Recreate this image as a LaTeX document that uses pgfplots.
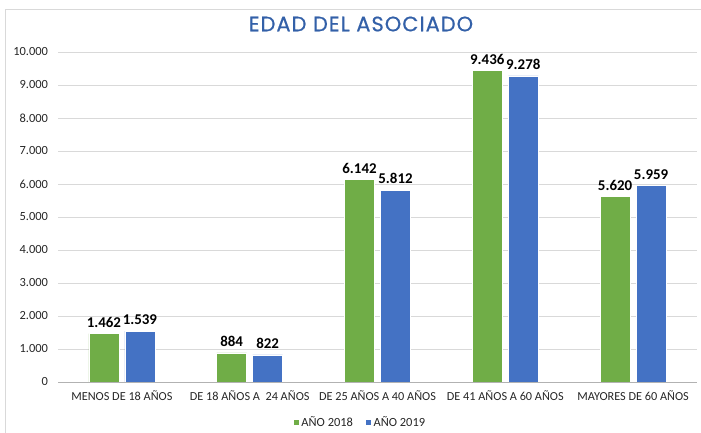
\documentclass[border=0pt]{standalone}
\usepackage{pgfplots}
\pgfplotsset{compat=1.18}
\usepackage{fontspec}
\setmainfont{Carlito}
\newfontfamily\titlefont{Poppins}[LetterSpace=5, FakeBold=0.6]
\definecolor{gA}{HTML}{70AD47}
\definecolor{bA}{HTML}{4472C4}
\definecolor{tC}{HTML}{3360A8}
\definecolor{gridC}{HTML}{D9D9D9}
\begin{document}
\begin{tikzpicture}[x=1bp,y=1bp]
\path[use as bounding box] (0,0) rectangle (701,433);
\draw[gridC, line width=1bp] (5,0) -- (5,423) -- (701,423);
\node[font=\titlefont\fontsize{21}{24}\selectfont, text=tC] at (361,409) {EDAD DEL ASOCIADO};
\begin{axis}[
  at={(58bp,51bp)}, anchor=south west,
  scale only axis, width=639bp, height=330bp,
  ybar=6bp, bar width=30bp,
  xmin=-0.5, xmax=4.5, ymin=0, ymax=10000,
  xtick=data,
  xticklabels={MENOS DE 18 AÑOS, DE 18 AÑOS A\ \ 24 AÑOS, DE 25 AÑOS A 40 AÑOS, DE 41 AÑOS A 60 AÑOS, MAYORES DE 60 AÑOS},
  ytick={0,1000,...,10000},
  /pgf/number format/1000 sep={.},
  /pgf/number format/assume math mode=true,
  scaled y ticks=false,
  yticklabel style={font=\fontsize{12.5}{14}\selectfont, text=black!85, xshift=-6.5bp},
  xticklabel style={font=\fontsize{12.3}{14}\selectfont, text=black!85, yshift=-5bp},
  major tick length=0pt,
  ymajorgrids, grid style={gridC, line width=0.8bp},
  axis line style={draw=none},
  nodes near coords,
  every node near coord/.append style={font=\bfseries\fontsize{15}{17}\selectfont, text=black, yshift=2.5bp},
  legend style={at={(302bp,-40bp)}, anchor=center, draw=none, legend columns=2, font=\fontsize{12.5}{14}\selectfont, text=black!85, /tikz/every even column/.append style={column sep=10bp}, /tikz/every odd column/.append style={column sep=0bp}},
  legend image code/.code={\fill[#1] (2bp,-3bp) rectangle (8bp,3bp);},
  clip=false,
]
\addplot[fill=gA, draw=white, line width=0.6bp] coordinates {(0,1462) (1,884) (2,6142) (3,9436) (4,5620)};
\addplot[fill=bA, draw=white, line width=0.6bp] coordinates {(0,1539) (1,822) (2,5812) (3,9278) (4,5959)};
\legend{AÑO 2018, AÑO 2019}
\draw[gray!60, line width=0.8bp] (axis cs:-0.5,0) -- (axis cs:4.5,0);
\end{axis}
\end{tikzpicture}
\end{document}
